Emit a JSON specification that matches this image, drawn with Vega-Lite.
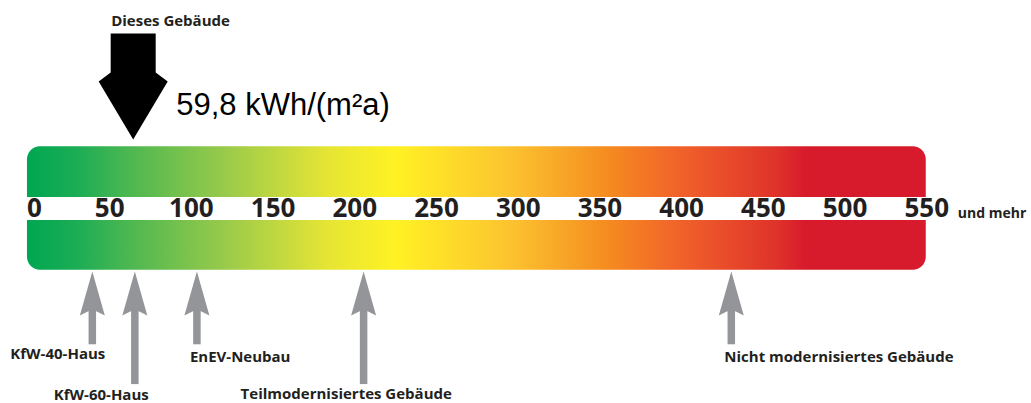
{
  "$schema": "https://vega.github.io/schema/vega-lite/v6.json",
  "width": 1031,
  "height": 403,
  "autosize": {"type": "fit", "contains": "padding"},
  "padding": 0,
  "background": "white",
  "view": {"stroke": null},
  "config": {"text": {"font": "Open Sans", "fontWeight": "bold", "color": "#231f20"}},
  "datasets": {
    "skala": [{"von": 0, "bis": 550}],
    "ticks": [
      {"wert": 0}, {"wert": 50}, {"wert": 100}, {"wert": 150}, {"wert": 200}, {"wert": 250},
      {"wert": 300}, {"wert": 350}, {"wert": 400}, {"wert": 450}, {"wert": 500}, {"wert": 550}
    ],
    "gebaeude": [{"label": "Dieses Gebäude", "wert": 65, "anzeige": "59,8 kWh/(m²a)"}],
    "marker": [
      {"name": "KfW-40-Haus", "wert": 40},
      {"name": "KfW-60-Haus", "wert": 66},
      {"name": "EnEV-Neubau", "wert": 104},
      {"name": "Teilmodernisiertes Gebäude", "wert": 206},
      {"name": "Nicht modernisiertes Gebäude", "wert": 431}
    ]
  },
  "layer": [
    {
      "data": {"name": "skala"},
      "mark": {
        "type": "rect",
        "cornerRadius": 13,
        "color": {
          "gradient": "linear", "x1": 0, "x2": 1, "y1": 0, "y2": 0,
          "stops": [
            {"offset": 0, "color": "#00a651"},
            {"offset": 0.056, "color": "#1cad55"},
            {"offset": 0.113, "color": "#4cb751"},
            {"offset": 0.224, "color": "#9ccb4a"},
            {"offset": 0.335, "color": "#e6e534"},
            {"offset": 0.409, "color": "#fff224"},
            {"offset": 0.538, "color": "#fcc32f"},
            {"offset": 0.649, "color": "#f58a20"},
            {"offset": 0.724, "color": "#f1632a"},
            {"offset": 0.835, "color": "#df322a"},
            {"offset": 0.866, "color": "#d71a2c"},
            {"offset": 1, "color": "#d71a2c"}
          ]
        }
      },
      "encoding": {
        "x": {"field": "von", "type": "quantitative", "scale": {"domain": [-16.5, 614.4], "nice": false, "zero": false}, "axis": null},
        "x2": {"field": "bis"},
        "y": {"datum": 147, "type": "quantitative", "scale": {"domain": [0, 403], "reverse": true, "nice": false, "zero": false}, "axis": null},
        "y2": {"datum": 271}
      }
    },
    {
      "data": {"name": "skala"},
      "mark": {"type": "rect", "color": "white"},
      "encoding": {
        "x": {"datum": -2, "type": "quantitative"},
        "x2": {"datum": 552},
        "y": {"datum": 198, "type": "quantitative"},
        "y2": {"datum": 221}
      }
    },
    {
      "data": {"name": "ticks"},
      "transform": [{"filter": "datum.wert > 0"}],
      "mark": {"type": "text", "fontSize": 26, "align": "center", "baseline": "alphabetic", "dx": 1},
      "encoding": {
        "x": {"field": "wert", "type": "quantitative"},
        "y": {"datum": 218, "type": "quantitative"},
        "text": {"field": "wert", "type": "quantitative", "format": "d"}
      }
    },
    {
      "data": {"name": "ticks"},
      "transform": [{"filter": "datum.wert == 0"}],
      "mark": {"type": "text", "fontSize": 26, "align": "left", "baseline": "alphabetic", "dx": 0},
      "encoding": {
        "x": {"field": "wert", "type": "quantitative"},
        "y": {"datum": 218, "type": "quantitative"},
        "text": {"field": "wert", "type": "quantitative", "format": "d"}
      }
    },
    {
      "data": {"name": "skala"},
      "mark": {"type": "text", "fontSize": 14, "align": "left", "baseline": "alphabetic", "dx": 32, "text": "und mehr"},
      "encoding": {
        "x": {"field": "bis", "type": "quantitative"},
        "y": {"datum": 219, "type": "quantitative"}
      }
    },
    {
      "data": {"name": "gebaeude"},
      "mark": {
        "type": "point", "filled": true, "opacity": 1, "color": "#000000", "strokeWidth": 0, "size": 11236,
        "shape": "M-0.4245,-1L0.4245,-1L0.4245,-0.264L0.651,-0.094L0,1L-0.651,-0.094L-0.4245,-0.264Z"
      },
      "encoding": {
        "x": {"field": "wert", "type": "quantitative"},
        "y": {"datum": 87, "type": "quantitative"}
      }
    },
    {
      "data": {"name": "gebaeude"},
      "mark": {"type": "text", "fontSize": 15, "align": "left", "baseline": "alphabetic", "dx": -22},
      "encoding": {
        "x": {"field": "wert", "type": "quantitative"},
        "y": {"datum": 26, "type": "quantitative"},
        "text": {"field": "label"}
      }
    },
    {
      "data": {"name": "gebaeude"},
      "mark": {"type": "text", "font": "Liberation Sans", "fontWeight": "normal", "color": "#000000", "fontSize": 31, "align": "left", "baseline": "alphabetic", "dx": 43},
      "encoding": {
        "x": {"field": "wert", "type": "quantitative"},
        "y": {"datum": 116, "type": "quantitative"},
        "text": {"field": "anzeige"}
      }
    },
    {
      "data": {"name": "marker"},
      "transform": [{"filter": {"field": "name", "oneOf": ["KfW-40-Haus", "EnEV-Neubau", "Nicht modernisiertes Gebäude"]}}],
      "mark": {"type": "rule", "color": "#939598", "strokeWidth": 7.5, "strokeCap": "butt"},
      "encoding": {
        "x": {"field": "wert", "type": "quantitative"},
        "y": {"datum": 310, "type": "quantitative"},
        "y2": {"datum": 346}
      }
    },
    {
      "data": {"name": "marker"},
      "transform": [{"filter": {"field": "name", "oneOf": ["KfW-60-Haus", "Teilmodernisiertes Gebäude"]}}],
      "mark": {"type": "rule", "color": "#939598", "strokeWidth": 7.5, "strokeCap": "butt"},
      "encoding": {
        "x": {"field": "wert", "type": "quantitative"},
        "y": {"datum": 310, "type": "quantitative"},
        "y2": {"datum": 386}
      }
    },
    {
      "data": {"name": "marker"},
      "mark": {
        "type": "point", "filled": true, "opacity": 1, "color": "#939598", "strokeWidth": 0, "size": 1936,
        "shape": "M0,-1L0.568,1L0.18,0.8L-0.18,0.8L-0.568,1Z"
      },
      "encoding": {
        "x": {"field": "wert", "type": "quantitative"},
        "y": {"datum": 295, "type": "quantitative"}
      }
    },
    {
      "data": {"name": "marker"},
      "transform": [{"filter": "datum.name == 'KfW-40-Haus'"}],
      "mark": {"type": "text", "fontSize": 15, "align": "left", "baseline": "alphabetic", "dx": -82},
      "encoding": {
        "x": {"field": "wert", "type": "quantitative"},
        "y": {"datum": 361, "type": "quantitative"},
        "text": {"field": "name"}
      }
    },
    {
      "data": {"name": "marker"},
      "transform": [{"filter": "datum.name == 'KfW-60-Haus'"}],
      "mark": {"type": "text", "fontSize": 15, "align": "left", "baseline": "alphabetic", "dx": -81},
      "encoding": {
        "x": {"field": "wert", "type": "quantitative"},
        "y": {"datum": 401.5, "type": "quantitative"},
        "text": {"field": "name"}
      }
    },
    {
      "data": {"name": "marker"},
      "transform": [{"filter": "datum.name == 'EnEV-Neubau'"}],
      "mark": {"type": "text", "fontSize": 15, "align": "left", "baseline": "alphabetic", "dx": -7},
      "encoding": {
        "x": {"field": "wert", "type": "quantitative"},
        "y": {"datum": 363.5, "type": "quantitative"},
        "text": {"field": "name"}
      }
    },
    {
      "data": {"name": "marker"},
      "transform": [{"filter": "datum.name == 'Teilmodernisiertes Gebäude'"}],
      "mark": {"type": "text", "fontSize": 15, "align": "left", "baseline": "alphabetic", "dx": -123},
      "encoding": {
        "x": {"field": "wert", "type": "quantitative"},
        "y": {"datum": 401, "type": "quantitative"},
        "text": {"field": "name"}
      }
    },
    {
      "data": {"name": "marker"},
      "transform": [{"filter": "datum.name == 'Nicht modernisiertes Gebäude'"}],
      "mark": {"type": "text", "fontSize": 15, "align": "left", "baseline": "alphabetic", "dx": -7},
      "encoding": {
        "x": {"field": "wert", "type": "quantitative"},
        "y": {"datum": 363.5, "type": "quantitative"},
        "text": {"field": "name"}
      }
    }
  ]
}
